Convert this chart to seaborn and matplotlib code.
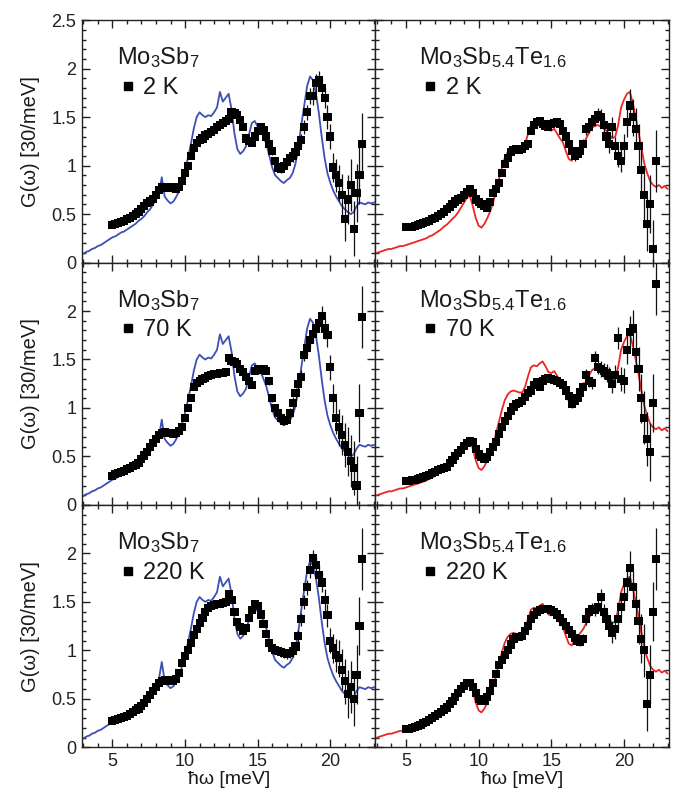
import numpy as np
import pandas as pd
import matplotlib
matplotlib.use("Agg")
import matplotlib.pyplot as plt
import seaborn as sns
from matplotlib.ticker import MultipleLocator, FuncFormatter
from matplotlib.lines import Line2D

# ---------------- data ----------------
e_calc = [3.0, 3.2, 3.4, 3.6, 3.8, 4.0, 4.2, 4.4, 4.6, 4.8,
          5.0, 5.2, 5.4, 5.6, 5.8, 6.0, 6.2, 6.4, 6.6, 6.8,
          7.0, 7.2, 7.4, 7.6, 7.8, 8.0, 8.2, 8.4, 8.6, 8.8,
          9.0, 9.2, 9.4, 9.6, 9.8, 10.0, 10.2, 10.4, 10.6, 10.8,
          11.0, 11.2, 11.4, 11.6, 11.8, 12.0, 12.2, 12.4, 12.6, 12.8,
          13.0, 13.2, 13.4, 13.6, 13.8, 14.0, 14.2, 14.4, 14.6, 14.8,
          15.0, 15.2, 15.4, 15.6, 15.8, 16.0, 16.2, 16.4, 16.6, 16.8,
          17.0, 17.2, 17.4, 17.6, 17.8, 18.0, 18.2, 18.4, 18.6, 18.8,
          19.0, 19.2, 19.4, 19.6, 19.8, 20.0, 20.2, 20.4, 20.6, 20.8,
          21.0, 21.2, 21.4, 21.6, 21.8, 22.0, 22.2, 22.4, 22.6, 22.8, 23.0]

calc_sb7 = [0.09, 0.11, 0.12, 0.14, 0.15, 0.17, 0.18, 0.20, 0.22, 0.24,
            0.26, 0.27, 0.29, 0.31, 0.32, 0.34, 0.36, 0.38, 0.40, 0.43,
            0.45, 0.48, 0.52, 0.55, 0.60, 0.65, 0.70, 0.88, 0.68, 0.64,
            0.61, 0.63, 0.68, 0.74, 0.84, 0.95, 1.08, 1.22, 1.38, 1.50,
            1.55, 1.52, 1.50, 1.52, 1.51, 1.55, 1.60, 1.76, 1.66, 1.70,
            1.74, 1.58, 1.33, 1.17, 1.12, 1.15, 1.20, 1.32, 1.44, 1.46,
            1.40, 1.37, 1.30, 1.22, 1.10, 0.98, 0.90, 0.87, 0.84, 0.82,
            0.85, 0.87, 0.92, 1.02, 1.20, 1.42, 1.62, 1.82, 1.92, 1.88,
            1.75, 1.55, 1.30, 1.08, 0.92, 0.82, 0.74, 0.68, 0.63, 0.58,
            0.55, 0.52, 0.50, 0.52, 0.58, 0.62, 0.61, 0.60, 0.62, 0.61, 0.62]

calc_te = [0.10, 0.11, 0.12, 0.13, 0.14, 0.14, 0.15, 0.16, 0.17, 0.17,
           0.18, 0.19, 0.20, 0.21, 0.22, 0.23, 0.24, 0.25, 0.27, 0.28,
           0.30, 0.32, 0.34, 0.37, 0.39, 0.42, 0.45, 0.48, 0.52, 0.57,
           0.62, 0.67, 0.69, 0.58, 0.46, 0.38, 0.36, 0.40, 0.46, 0.53,
           0.62, 0.74, 0.86, 0.98, 1.08, 1.14, 1.17, 1.18, 1.17, 1.16,
           1.16, 1.22, 1.33, 1.42, 1.44, 1.43, 1.46, 1.48, 1.43, 1.37,
           1.36, 1.38, 1.33, 1.28, 1.24, 1.15, 1.07, 1.05, 1.10, 1.14,
           1.18, 1.22, 1.28, 1.34, 1.39, 1.41, 1.42, 1.40, 1.38, 1.36,
           1.32, 1.28, 1.30, 1.42, 1.60, 1.68, 1.74, 1.76, 1.65, 1.50,
           1.35, 1.18, 1.02, 0.92, 0.84, 0.80, 0.78, 0.80, 0.77, 0.79, 0.76]

e_data = [5.0, 5.2, 5.4, 5.6, 5.8, 6.0, 6.2, 6.4, 6.6, 6.8,
          7.0, 7.2, 7.4, 7.6, 7.8, 8.0, 8.2, 8.4, 8.6, 8.8,
          9.0, 9.2, 9.4, 9.6, 9.8, 10.0, 10.2, 10.4, 10.6, 10.8,
          11.0, 11.2, 11.4, 11.6, 11.8, 12.0, 12.2, 12.4, 12.6, 12.8,
          13.0, 13.2, 13.4, 13.6, 13.8, 14.0, 14.2, 14.4, 14.6, 14.8,
          15.0, 15.2, 15.4, 15.6, 15.8, 16.0, 16.2, 16.4, 16.6, 16.8,
          17.0, 17.2, 17.4, 17.6, 17.8, 18.0, 18.2, 18.4, 18.6, 18.8,
          19.0, 19.2, 19.4, 19.6, 19.8, 20.0, 20.2, 20.4, 20.6, 20.8,
          21.0, 21.2, 21.4, 21.6, 21.8, 22.0, 22.2]

g_err = [0.015, 0.015, 0.015, 0.015, 0.015, 0.015, 0.015, 0.015, 0.015, 0.015,
         0.015, 0.015, 0.015, 0.015, 0.015, 0.015, 0.015, 0.015, 0.015, 0.015,
         0.015, 0.015, 0.015, 0.015, 0.015, 0.02, 0.02, 0.02, 0.02, 0.02,
         0.02, 0.02, 0.02, 0.02, 0.02, 0.02, 0.02, 0.02, 0.02, 0.02,
         0.02, 0.02, 0.02, 0.02, 0.02, 0.02, 0.02, 0.02, 0.02, 0.02,
         0.03, 0.03, 0.03, 0.03, 0.04, 0.04, 0.04, 0.04, 0.05, 0.05,
         0.05, 0.05, 0.06, 0.06, 0.06, 0.07, 0.07, 0.08, 0.08, 0.09,
         0.09, 0.10, 0.10, 0.11, 0.12, 0.13, 0.15, 0.17, 0.19, 0.21,
         0.23, 0.25, 0.27, 0.28, 0.30, 0.30, 0.32]

sb7_2k = [0.39, 0.40, 0.41, 0.42, 0.43, 0.45, 0.46, 0.48, 0.50, 0.52,
          0.55, 0.58, 0.61, 0.63, 0.66, 0.70, 0.75, 0.78, 0.77, 0.77,
          0.78, 0.77, 0.76, 0.78, 0.84, 0.92, 1.00, 1.10, 1.18, 1.23,
          1.26, 1.28, 1.31, 1.33, 1.35, 1.37, 1.40, 1.42, 1.44, 1.46,
          1.48, 1.55, 1.54, 1.52, 1.47, 1.40, 1.28, 1.25, 1.23, 1.30,
          1.36, 1.40, 1.37, 1.30, 1.22, 1.15, 1.05, 0.98, 0.97, 1.00,
          1.04, 1.08, 1.10, 1.14, 1.20, 1.26, 1.40, 1.55, 1.72, 1.72,
          1.85, 1.88, 1.80, 1.70, 1.50, 1.30, 0.98, 0.90, 0.82, 0.70,
          0.45, 0.65, 0.80, 0.35, 0.72, 0.90, 1.22]

te_2k = [0.37, 0.37, 0.37, 0.38, 0.39, 0.40, 0.41, 0.42, 0.43, 0.45,
         0.46, 0.48, 0.50, 0.52, 0.55, 0.57, 0.60, 0.63, 0.65, 0.67,
         0.70, 0.73, 0.76, 0.72, 0.65, 0.62, 0.60, 0.58, 0.56, 0.62,
         0.72, 0.76, 0.82, 0.92, 1.02, 1.08, 1.14, 1.16, 1.17, 1.16,
         1.17, 1.20, 1.22, 1.36, 1.42, 1.45, 1.46, 1.43, 1.41, 1.40,
         1.43, 1.44, 1.45, 1.43, 1.36, 1.30, 1.22, 1.15, 1.10, 1.12,
         1.15, 1.22, 1.38, 1.40, 1.45, 1.48, 1.52, 1.50, 1.42, 1.30,
         1.22, 1.40, 1.20, 1.10, 1.05, 1.20, 1.45, 1.62, 1.50, 1.38,
         1.20, 0.95, 0.70, 0.40, 0.60, 0.14, 1.05]

sb7_70k = [0.30, 0.32, 0.33, 0.34, 0.35, 0.37, 0.38, 0.40, 0.41, 0.43,
           0.47, 0.51, 0.55, 0.60, 0.64, 0.68, 0.72, 0.74, 0.75, 0.74,
           0.74, 0.73, 0.74, 0.76, 0.80, 0.90, 1.00, 1.10, 1.22, 1.26,
           1.28, 1.30, 1.31, 1.33, 1.34, 1.35, 1.35, 1.36, 1.36, 1.37,
           1.52, 1.48, 1.47, 1.45, 1.40, 1.37, 1.32, 1.28, 1.24, 1.38,
           1.40, 1.39, 1.40, 1.38, 1.28, 1.10, 1.00, 0.95, 0.90, 0.87,
           0.88, 0.95, 1.05, 1.15, 1.25, 1.32, 1.55, 1.62, 1.70, 1.76,
           1.82, 1.88, 1.95, 1.82, 1.75, 1.42, 1.10, 0.90, 0.80, 0.72,
           0.62, 0.55, 0.45, 0.38, 0.20, 0.95, 1.94]

te_70k = [0.25, 0.25, 0.26, 0.26, 0.27, 0.28, 0.29, 0.30, 0.31, 0.33,
          0.34, 0.36, 0.37, 0.38, 0.39, 0.43, 0.46, 0.50, 0.54, 0.57,
          0.61, 0.64, 0.66, 0.65, 0.58, 0.52, 0.49, 0.47, 0.49, 0.55,
          0.60, 0.65, 0.73, 0.80, 0.87, 0.92, 0.97, 1.01, 1.04, 1.05,
          1.07, 1.11, 1.15, 1.18, 1.24, 1.27, 1.22, 1.28, 1.30, 1.31,
          1.30, 1.29, 1.28, 1.26, 1.24, 1.18, 1.12, 1.04, 1.07, 1.10,
          1.16, 1.22, 1.34, 1.28, 1.26, 1.52, 1.42, 1.40, 1.38, 1.36,
          1.33, 1.25, 1.34, 1.72, 1.30, 1.28, 1.60, 1.78, 1.82, 1.58,
          1.40, 1.10, 0.90, 0.68, 0.55, 1.05, 2.28]

sb7_220k = [0.27, 0.28, 0.29, 0.30, 0.31, 0.32, 0.34, 0.36, 0.38, 0.40,
            0.43, 0.46, 0.50, 0.54, 0.58, 0.62, 0.66, 0.68, 0.69, 0.69,
            0.68, 0.68, 0.70, 0.77, 0.87, 0.94, 1.00, 1.08, 1.16, 1.22,
            1.28, 1.33, 1.40, 1.44, 1.46, 1.47, 1.48, 1.48, 1.49, 1.50,
            1.58, 1.52, 1.40, 1.29, 1.24, 1.20, 1.23, 1.33, 1.42, 1.48,
            1.46, 1.37, 1.27, 1.17, 1.08, 1.02, 1.00, 0.99, 0.98, 0.97,
            0.96, 0.97, 0.99, 1.04, 1.15, 1.32, 1.50, 1.65, 1.83, 1.95,
            1.88, 1.78, 1.70, 1.52, 1.36, 1.10, 1.02, 0.95, 0.92, 0.80,
            0.68, 0.55, 0.62, 0.50, 0.75, 1.25, 1.94]

te_220k = [0.19, 0.19, 0.20, 0.21, 0.22, 0.23, 0.25, 0.26, 0.28, 0.30,
           0.32, 0.34, 0.36, 0.39, 0.41, 0.45, 0.48, 0.52, 0.56, 0.60,
           0.63, 0.66, 0.66, 0.62, 0.56, 0.50, 0.48, 0.48, 0.52, 0.58,
           0.66, 0.76, 0.85, 0.90, 0.95, 1.00, 1.06, 1.12, 1.14, 1.14,
           1.15, 1.20, 1.25, 1.32, 1.36, 1.40, 1.42, 1.43, 1.43, 1.43,
           1.42, 1.40, 1.37, 1.33, 1.29, 1.25, 1.21, 1.17, 1.13, 1.10,
           1.09, 1.12, 1.32, 1.40, 1.43, 1.42, 1.45, 1.55, 1.40, 1.32,
           1.25, 1.18, 1.22, 1.32, 1.45, 1.55, 1.70, 1.85, 1.65, 1.48,
           1.30, 1.12, 1.00, 0.45, 0.75, 1.40, 1.94]

temps = ["2 K", "70 K", "220 K"]
compounds = [r"Mo$_3$Sb$_7$", r"Mo$_3$Sb$_{5.4}$Te$_{1.6}$"]
y_label = "G(ω) [30/meV]"
x_label = "ħω [meV]"
measured = [[sb7_2k, te_2k], [sb7_70k, te_70k], [sb7_220k, te_220k]]
calc_colors = ["#3d4fb5", "#ee2424"]

# ---------------- style ----------------
sns.set_style("white")
plt.rcParams["font.family"] = ["Liberation Sans", "DejaVu Sans"]
plt.rcParams["mathtext.fontset"] = "custom"
plt.rcParams["mathtext.rm"] = "Liberation Sans"
plt.rcParams["mathtext.it"] = "Liberation Sans:italic"
plt.rcParams["mathtext.default"] = "regular"

fig, axes = plt.subplots(3, 2, figsize=(6.82, 8.07), dpi=100)
fig.subplots_adjust(left=0.12, right=0.981, top=0.975, bottom=0.074,
                    hspace=0, wspace=0)

calc_df = pd.DataFrame({"E": e_calc, "sb7": calc_sb7, "te": calc_te})
text_col = "#1a1a1a"

for r in range(3):
    for c in range(2):
        ax = axes[r, c]
        df = pd.DataFrame({"E": e_data, "G": measured[r][c], "err": g_err})
        sns.lineplot(data=calc_df, x="E", y=["sb7", "te"][c], ax=ax,
                     color=calc_colors[c], lw=1.3, estimator=None, sort=False,
                     zorder=2)
        ax.errorbar(df["E"], df["G"], yerr=df["err"], fmt="none",
                    ecolor="#111111", elinewidth=0.9, capsize=0, zorder=3)
        sns.scatterplot(data=df, x="E", y="G", ax=ax, marker="s", s=34,
                        color="black", edgecolor="none", linewidth=0,
                        zorder=4)
        ax.set_xlim(2.9, 23.1)
        ax.set_ylim(0, 2.5)
        ax.xaxis.set_major_locator(MultipleLocator(5))
        ax.xaxis.set_minor_locator(MultipleLocator(1))
        ax.yaxis.set_major_locator(MultipleLocator(0.5))
        ax.yaxis.set_minor_locator(MultipleLocator(0.1))
        ax.tick_params(which="both", direction="in", top=True, right=True,
                       bottom=True, left=True, width=1, labelsize=13,
                       colors="#222222", pad=4)
        ax.tick_params(which="major", length=6)
        ax.tick_params(which="minor", length=3)
        for sp in ax.spines.values():
            sp.set_linewidth(1.0)
            sp.set_color("#222222")
        ax.set_ylabel("")
        ax.set_xlabel("")
        if c == 0:
            if r == 0:
                ax.yaxis.set_major_formatter(FuncFormatter(lambda v, p: f"{v:g}"))
            else:
                ax.yaxis.set_major_formatter(
                    FuncFormatter(lambda v, p: "" if v > 2.4 else f"{v:g}"))
            ax.text(-0.175, 0.5, y_label, transform=ax.transAxes,
                    rotation=90, fontsize=14.5, ha="center", va="center",
                    color=text_col, clip_on=False)
        else:
            ax.set_yticklabels([])
        if r == 2:
            ax.set_xlabel(x_label, fontsize=14, labelpad=1, color=text_col)
        else:
            ax.set_xticklabels([])
        xt = 0.12 if c == 0 else 0.15
        ax.text(xt, 0.845, compounds[c], transform=ax.transAxes, fontsize=17,
                va="center", ha="left", color=text_col)
        h = Line2D([], [], marker="s", ls="none", color="black", markersize=6)
        ax.legend(handles=[h], labels=[temps[r]], loc="center left",
                  bbox_to_anchor=(xt + 0.005, 0.72), frameon=False,
                  fontsize=17, handletextpad=0.25, handlelength=0.8,
                  borderaxespad=0, borderpad=0, labelcolor=text_col)

fig.savefig("out.png", dpi=100)
